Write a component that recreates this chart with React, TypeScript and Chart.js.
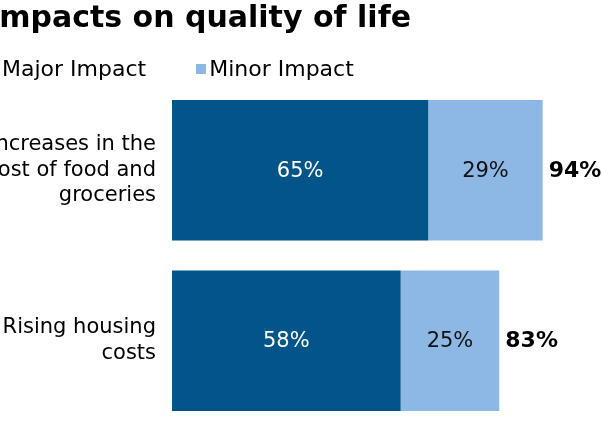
import { useEffect, useRef } from "react"
import { Chart, registerables } from "chart.js"
import type { Plugin } from "chart.js"

Chart.register(...registerables)

const title = "Impacts on quality of life"
const categories = [
  ["Increases in the", "cost of food and", "groceries"],
  ["Rising housing", "costs"],
]
const seriesNames = ["Major Impact", "Minor Impact"]
const majorImpact = [65, 58]
const minorImpact = [29, 25]
const totals = [94, 83]
const seriesColors = ["#035589", "#8DB8E5"]

const FONT = "'DejaVu Sans', Verdana, sans-serif"

// writes the value inside each bar and the bold total after the stack
const barLabels: Plugin<"bar"> = {
  id: "barLabels",
  afterDatasetsDraw(chart) {
    const { ctx } = chart
    const last = chart.data.datasets.length - 1
    ctx.save()
    ctx.textBaseline = "middle"
    chart.data.datasets.forEach((ds, di) => {
      const meta = chart.getDatasetMeta(di)
      meta.data.forEach((bar, i) => {
        const { x, y, base } = bar.getProps(["x", "y", "base"], true) as any
        ctx.textAlign = "center"
        ctx.font = `21px ${FONT}`
        ctx.fillStyle = di === 0 ? "#ffffff" : "#111111"
        ctx.fillText(`${ds.data[i]}%`, (x + base) / 2, y + 1)
        if (di === last) {
          ctx.textAlign = "left"
          ctx.font = `bold 22px ${FONT}`
          ctx.fillStyle = "#000000"
          ctx.fillText(`${totals[i]}%`, x + 6, y + 1)
        }
      })
    })
    ctx.restore()
  },
}

function ImpactChart() {
  const chartRef = useRef<HTMLCanvasElement>(null)
  const chartInstance = useRef<Chart | null>(null)

  useEffect(() => {
    if (!chartRef.current) return
    if (chartInstance.current) chartInstance.current.destroy()

    const values = [majorImpact, minorImpact]

    chartInstance.current = new Chart(chartRef.current, {
      type: "bar",
      data: {
        labels: categories,
        datasets: seriesNames.map((name, i) => ({
          label: name,
          data: values[i],
          backgroundColor: seriesColors[i],
          borderWidth: 0,
          barPercentage: 0.824,
          categoryPercentage: 1,
        })),
      },
      options: {
        indexAxis: "y",
        animation: false,
        responsive: true,
        maintainAspectRatio: false,
        layout: { padding: { top: 85, right: 35.7, left: 0, bottom: 0 } },
        plugins: {
          legend: { display: false },
          title: { display: false },
          tooltip: { enabled: false },
        },
        scales: {
          x: {
            stacked: true,
            display: false,
            min: 0,
            max: 100,
          },
          y: {
            stacked: true,
            grid: { display: false, drawTicks: false },
            border: { display: false },
            ticks: {
              color: "#000000",
              padding: 16,
              font: { family: FONT, size: 21, lineHeight: 1.22 },
            },
            afterFit: (scale) => {
              // fixed label column; labels sit well inside the bands, no edge padding needed
              scale.width = 200
              scale.paddingTop = 0
              scale.paddingBottom = 0
            },
          },
        },
      },
      plugins: [barLabels],
    })

    return () => {
      if (chartInstance.current) {
        chartInstance.current.destroy()
        chartInstance.current = null
      }
    }
  }, [])

  return <canvas ref={chartRef} />
}

export default function App() {
  return (
    <div
      style={{
        position: "fixed",
        left: 0,
        top: 0,
        width: 602,
        height: 421,
        overflow: "hidden",
        background: "#ffffff",
        fontFamily: FONT,
        color: "#000000",
      }}
    >
      <div style={{ position: "absolute", left: -28, top: 0, width: 630, height: 426 }}>
        <ImpactChart />
      </div>
      <div
        style={{
          position: "absolute",
          left: -12,
          top: 2,
          fontSize: 30,
          lineHeight: "30px",
          fontWeight: "bold",
          whiteSpace: "nowrap",
        }}
      >
        {title}
      </div>
      <div style={{ position: "absolute", left: -11, top: 58, display: "flex", gap: 50 }}>
        {seriesNames.map((name, i) => (
          <div key={name} style={{ display: "flex", alignItems: "center" }}>
            <span
              style={{
                display: "inline-block",
                width: 10,
                height: 10,
                marginRight: 3,
                background: seriesColors[i],
              }}
            />
            <span style={{ fontSize: 22, lineHeight: "22px", whiteSpace: "nowrap" }}>{name}</span>
          </div>
        ))}
      </div>
    </div>
  )
}
